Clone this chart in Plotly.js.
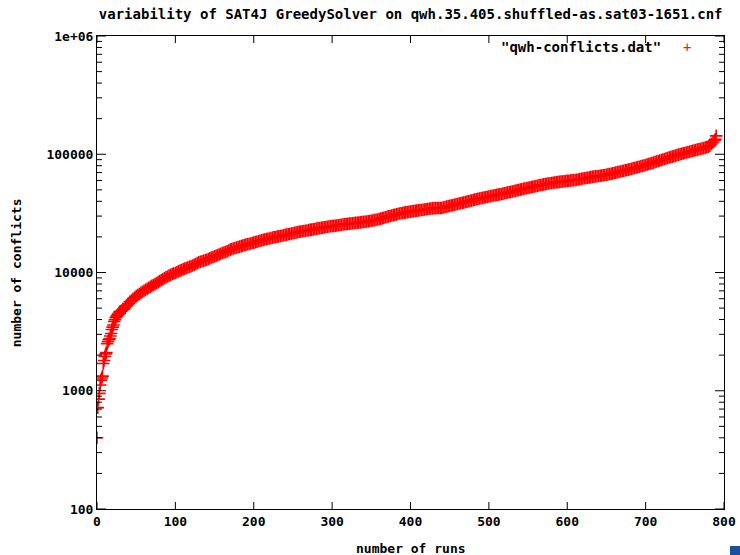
<!DOCTYPE html>
<html>
<head>
<meta charset="utf-8">
<script src="https://cdn.plot.ly/plotly-3.0.1.min.js"></script>
<style>html,body{margin:0;padding:0;background:#fff;}#sq{position:absolute;left:730px;top:546px;width:10px;height:9px;background:#1c4f9c;}</style>
</head>
<body>
<div id="chart"></div>
<div id="sq"></div>
<script>
const chartTitle = 'variability of SAT4J GreedySolver on qwh.35.405.shuffled-as.sat03-1651.cnf';
const xLabel = 'number of runs';
const yLabel = 'number of conflicts';
const seriesName = '"qwh-conflicts.dat"';
const yTickVals = [100, 1000, 10000, 100000, 1000000];
const yTickText = ['100', '1000', '10000', '100000', '1e+06'];
const yMinorVals = [200,300,400,500,600,700,800,900,2000,3000,4000,5000,6000,7000,8000,9000,
  20000,30000,40000,50000,60000,70000,80000,90000,200000,300000,400000,500000,600000,700000,800000,900000];
const xTickVals = [0, 100, 200, 300, 400, 500, 600, 700, 800];

const runs = [
  0,1,2,3,4,5,6,7,8,9,10,11,12,13,14,15,16,17,18,19,20,21,22,23,24,25,26,27,28,29,30,
  32,34,36,38,40,42,44,46,48,50,52,54,56,58,60,62,64,66,68,70,72,74,76,78,80,82,84,86,88,90,92,94,96,98,100,
  102,104,106,108,110,112,114,116,118,120,122,124,126,128,130,132,134,136,138,140,142,144,146,148,150,
  152,154,156,158,160,162,164,166,168,170,172,174,176,178,180,182,184,186,188,190,192,194,196,198,200,
  202,204,206,208,210,212,214,216,218,220,222,224,226,228,230,232,234,236,238,240,242,244,246,248,250,
  252,254,256,258,260,262,264,266,268,270,272,274,276,278,280,282,284,286,288,290,292,294,296,298,300,
  302,304,306,308,310,312,314,316,318,320,322,324,326,328,330,332,334,336,338,340,342,344,346,348,350,
  352,354,356,358,360,362,364,366,368,370,372,374,376,378,380,382,384,386,388,390,392,394,396,398,400,
  402,404,406,408,410,412,414,416,418,420,422,424,426,428,430,432,434,436,438,440,442,444,446,448,450,
  452,454,456,458,460,462,464,466,468,470,472,474,476,478,480,482,484,486,488,490,492,494,496,498,500,
  502,504,506,508,510,512,514,516,518,520,522,524,526,528,530,532,534,536,538,540,542,544,546,548,550,
  552,554,556,558,560,562,564,566,568,570,572,574,576,578,580,582,584,586,588,590,592,594,596,598,600,
  602,604,606,608,610,612,614,616,618,620,622,624,626,628,630,632,634,636,638,640,642,644,646,648,650,
  652,654,656,658,660,662,664,666,668,670,672,674,676,678,680,682,684,686,688,690,692,694,696,698,700,
  702,704,706,708,710,712,714,716,718,720,722,724,726,728,730,732,734,736,738,740,742,744,746,748,750,
  752,754,756,758,760,762,764,766,768,770,772,774,776,778,780,782,784,786,788,789,790
];
const conflicts = [
  400,720,850,950,1120,1230,1280,1330,1700,1800,1950,2050,2100,2500,2600,2700,2750,2900,3050,3300,3450,3600,3850,3980,4150,4250,4350,4450,4550,4650,4700,
  4800,4900,5050,5250,5450,5650,5800,5980,6150,6300,6450,6580,6720,6860,7000,7140,7280,7420,7560,7700,
  7840,7980,8120,8290,8450,8610,8770,8930,9090,9250,9410,9570,9700,9800,9900,
  10060,10220,10370,10510,10650,10790,10930,11060,11180,11300,11460,11620,11800,12000,12200,
  12320,12440,12560,12680,12800,13000,13200,13380,13540,13700,
  13860,14020,14200,14400,14600,14760,14920,15100,15350,15600,15780,15960,16120,16260,16400,
  16560,16720,16880,17040,17200,17320,17440,17580,17740,17900,
  18060,18220,18380,18540,18700,18860,19020,19160,19280,19400,19560,19720,19860,19980,20100,
  20220,20340,20480,20640,20800,20920,21040,21180,21340,21500,
  21660,21820,21960,22080,22200,22320,22440,22560,22680,22800,22920,23040,23180,23340,23500,
  23620,23740,23860,23980,24100,24220,24340,24460,24580,24700,
  24780,24860,24960,25080,25200,25320,25440,25560,25680,25800,25880,25960,26060,26180,26300,
  26380,26460,26560,26680,26800,26880,26960,27080,27240,27400,
  27560,27720,27900,28100,28300,28540,28780,29040,29320,29600,29840,30080,30320,30560,30800,
  31040,31280,31500,31700,31900,32060,32220,32380,32540,32700,
  32860,33020,33180,33340,33500,33660,33820,33980,34140,34300,34460,34620,34760,34880,35000,
  35040,35080,35120,35160,35200,35480,35760,36040,36320,36600,
  36880,37160,37440,37720,38000,38280,38560,38840,39120,39400,39720,40040,40360,40680,41000,
  41320,41640,41940,42220,42500,42780,43060,43340,43620,43900,
  44180,44460,44740,45020,45300,45580,45860,46160,46480,46800,47120,47440,47760,48080,48400,
  48760,49120,49480,49840,50200,50560,50920,51280,51640,52000,
  52360,52720,53080,53440,53800,54200,54600,54960,55280,55600,55920,56240,56540,56820,57100,
  57380,57660,57920,58160,58400,58640,58880,59100,59300,59500,
  59700,59900,60120,60360,60600,60920,61240,61580,61940,62300,62660,63020,63360,63680,64000,
  64320,64640,64940,65220,65500,65820,66140,66460,66780,67100,
  67540,67980,68440,68920,69400,69920,70440,70960,71480,72000,72520,73040,73580,74140,74700,
  75300,75900,76520,77160,77800,78440,79080,79720,80360,81000,
  81800,82600,83400,84200,85000,85880,86760,87640,88520,89400,90280,91160,92040,92920,93800,
  94680,95560,96460,97380,98300,99180,100060,100920,101760,102600,
  103440,104280,105120,105960,106800,107680,108560,109400,110200,111000,111880,112760,113760,114880,116000,
  118000,122000,126000,131000,134000,143000
];

const fontFam = 'DejaVu Sans Mono, Liberation Mono, monospace';
const lblFont = {family: fontFam, size: 13, color: '#000', weight: 'bold'};

const trace = {
  x: runs,
  y: conflicts,
  mode: 'markers',
  name: seriesName,
  marker: {symbol: 'cross-thin-open', size: 9, color: '#ff0000', line: {color: '#ff0000', width: 1.6}}
};

// gnuplot-style inside tick marks on all four sides, placed through the axes' own scales
const tickLine = {color: '#000', width: 1};
const tickShapes = [];
xTickVals.forEach(function (v) {
  tickShapes.push({type: 'line', xref: 'x', yref: 'paper', ysizemode: 'pixel', yanchor: 0, x0: v, x1: v, y0: 0, y1: 7, line: tickLine});
  tickShapes.push({type: 'line', xref: 'x', yref: 'paper', ysizemode: 'pixel', yanchor: 1, x0: v, x1: v, y0: 0, y1: -7, line: tickLine});
});
function addYTicks(vals, len) {
  vals.forEach(function (v) {
    tickShapes.push({type: 'line', yref: 'y', xref: 'paper', xsizemode: 'pixel', xanchor: 0, y0: v, y1: v, x0: 0, x1: len, line: tickLine});
    tickShapes.push({type: 'line', yref: 'y', xref: 'paper', xsizemode: 'pixel', xanchor: 1, y0: v, y1: v, x0: 0, x1: -len, line: tickLine});
  });
}
addYTicks(yTickVals, 9);
addYTicks(yMinorVals, 5);

const layout = {
  width: 740, height: 555,
  margin: {l: 97, r: 16, t: 36, b: 46},
  showlegend: false,
  title: {text: chartTitle, x: 0.555, xanchor: 'center', y: 0.975, yanchor: 'middle',
          font: {family: fontFam, size: 14, color: '#000', weight: 'bold'}},
  xaxis: {
    range: [0, 800], tickmode: 'array', tickvals: xTickVals,
    showline: true, linecolor: '#000', mirror: true, ticks: '',
    showgrid: false, zeroline: false, tickfont: lblFont
  },
  yaxis: {
    type: 'log', range: [2, 6], tickmode: 'array', tickvals: yTickVals, ticktext: yTickText,
    showline: true, linecolor: '#000', mirror: true, ticks: '',
    showgrid: false, zeroline: false, tickfont: lblFont
  },
  shapes: tickShapes,
  annotations: [
    {xref: 'paper', yref: 'paper', x: 0.903, y: 0.977, xanchor: 'right', yanchor: 'middle',
     text: seriesName, showarrow: false, font: {family: fontFam, size: 14, color: '#000', weight: 'bold'}},
    {xref: 'paper', yref: 'paper', x: 0.941, y: 0.977, xanchor: 'center', yanchor: 'middle',
     text: '+', showarrow: false, font: {family: fontFam, size: 14, color: '#dd2222'}},
    {xref: 'paper', yref: 'paper', x: 0.5, y: -0.0825, xanchor: 'center', yanchor: 'middle',
     text: xLabel, showarrow: false, font: lblFont},
    {xref: 'paper', yref: 'paper', x: -0.128, y: 0.5, xanchor: 'center', yanchor: 'middle',
     text: yLabel, textangle: -90, showarrow: false, font: lblFont}
  ]
};

Plotly.newPlot('chart', [trace], layout, {displayModeBar: false, staticPlot: true});
</script>
</body>
</html>
